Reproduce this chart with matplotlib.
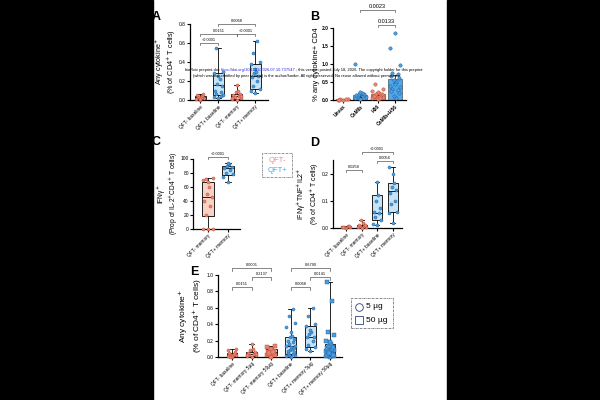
import numpy as np
import matplotlib.pyplot as plt
from matplotlib.patches import Rectangle
from matplotlib.lines import Line2D
from matplotlib.text import Annotation

plt.rcParams['font.family'] = ['Liberation Sans', 'DejaVu Sans']

RED = '#ec8570'; RED_EDGE = '#b04a38'; RED_FILL = '#f9d2c6'
BLUE = '#4a9ee0'; BLUE_EDGE = '#1d5a94'; BLUE_FILL = '#c6e3f7'

# ---- panel A ----
a_labels = ['QFT- baseline', 'QFT+ baseline', 'QFT- memory', 'QFT+ memory']
# lo, q1, med, q3, hi
a_stats = [[0.0, 0.01, 0.03, 0.04, 0.06],
           [0.02, 0.05, 0.16, 0.28, 0.55],
           [0.0, 0.01, 0.04, 0.06, 0.16],
           [0.07, 0.12, 0.25, 0.38, 0.62]]
a_pts = [[0.0, 0.01, 0.02, 0.03, 0.04, 0.05, 0.06, 0.03, 0.02, 0.01],
         [0.02, 0.03, 0.05, 0.06, 0.08, 0.10, 0.15, 0.17, 0.22, 0.25, 0.28, 0.30, 0.55, 0.04],
         [0.0, 0.01, 0.02, 0.03, 0.04, 0.05, 0.06, 0.08, 0.10, 0.16, 0.02, 0.04],
         [0.07, 0.10, 0.12, 0.15, 0.20, 0.24, 0.25, 0.28, 0.30, 0.33, 0.38, 0.40, 0.50, 0.62]]
a_brackets = [(0, 1, 0.60, '<0.0001'), (0, 2, 0.70, '0.0151'),
              (2, 3, 0.70, '<0.0001'), (1, 3, 0.80, '0.0068')]

# ---- panel B ----
b_labels = ['Unvax', 'CoMIb', 'H56', 'CoMIb+H56']
b_means = [0.02, 0.13, 0.17, 0.58]
b_err = [0.005, 0.05, 0.04, 0.12]
b_pts = [[0.0, 0.01, 0.02, 0.03, 0.02, 0.01],
         [0.03, 0.05, 0.08, 0.10, 0.12, 0.14, 0.16, 0.18, 0.20, 0.21, 1.0],
         [0.02, 0.05, 0.08, 0.10, 0.12, 0.14, 0.16, 0.18, 0.20, 0.22, 0.25, 0.30, 0.45, 0.06, 0.11],
         [1.85, 1.45, 0.98, 0.75, 0.72, 0.68, 0.60, 0.55, 0.50, 0.45, 0.40, 0.35,
          0.30, 0.28, 0.25, 0.20, 0.10, 0.05]]
b_brackets = [(2, 3, 2.08, '0.0133'), (1, 3, 2.5, '0.0023')]

# ---- panel C ----
c_labels = ['QFT- memory', 'QFT+ memory']
c_stats = [[0, 18, 46, 67, 72], [67, 76, 86, 90, 94]]
c_pts = [[0, 0, 0, 20, 33, 40, 46, 50, 60, 67, 70, 72, 71],
         [67, 74, 78, 80, 84, 86, 88, 90, 92, 94]]

# ---- panel D ----
d_labels = ['QFT- baseline', 'QFT- memory', 'QFT+ baseline', 'QFT+ memory']
d_stats = [[0.0, 0.002, 0.004, 0.006, 0.008],
           [0.0, 0.002, 0.006, 0.012, 0.03],
           [0.01, 0.03, 0.055, 0.12, 0.17],
           [0.02, 0.06, 0.135, 0.165, 0.225]]
d_pts = [[0.0, 0.002, 0.003, 0.005, 0.006, 0.004, 0.008],
         [0.0, 0.002, 0.004, 0.006, 0.008, 0.01, 0.012, 0.03, 0.02],
         [0.01, 0.015, 0.03, 0.04, 0.055, 0.06, 0.075, 0.10, 0.12, 0.17],
         [0.02, 0.055, 0.06, 0.09, 0.10, 0.13, 0.14, 0.15, 0.165, 0.20, 0.225]]
d_brackets = [(0, 1, 0.215, '0.0258'), (2, 3, 0.248, '0.0056'), (1, 3, 0.28, '<0.0001')]

# ---- panel E ----
e_labels = ['QFT- baseline', 'QFT- memory 5µg', 'QFT- memory 50µg',
            'QFT+ baseline', 'QFT+ memory 5µg', 'QFT+ memory 50µg']
e_stats = [[0.0, 0.01, 0.03, 0.05, 0.10],
           [0.0, 0.01, 0.04, 0.06, 0.16],
           [0.0, 0.03, 0.06, 0.10, 0.13],
           [0.0, 0.04, 0.13, 0.24, 0.58],
           [0.07, 0.12, 0.25, 0.38, 0.60],
           [0.0, 0.02, 0.07, 0.16, 0.92]]
e_pts = [[0.0, 0.01, 0.02, 0.03, 0.04, 0.05, 0.06, 0.03, 0.02, 0.01, 0.08, 0.10, 0.0, 0.04],
         [0.0, 0.01, 0.02, 0.03, 0.04, 0.05, 0.06, 0.08, 0.10, 0.16, 0.02, 0.04],
         [0.0, 0.02, 0.03, 0.04, 0.05, 0.06, 0.07, 0.08, 0.09, 0.10, 0.12, 0.13, 0.05, 0.06],
         [0.0, 0.01, 0.02, 0.03, 0.04, 0.05, 0.06, 0.08, 0.10, 0.12, 0.13, 0.14, 0.16, 0.18,
          0.20, 0.22, 0.24, 0.26, 0.30, 0.36, 0.42, 0.50, 0.58, 0.07, 0.11],
         [0.07, 0.10, 0.12, 0.15, 0.20, 0.24, 0.25, 0.28, 0.30, 0.33, 0.38, 0.40, 0.50, 0.60],
         [0.0, 0.01, 0.01, 0.02, 0.02, 0.03, 0.04, 0.05, 0.06, 0.07, 0.07, 0.08, 0.09, 0.10,
          0.11, 0.12, 0.14, 0.16, 0.18, 0.20, 0.27, 0.30, 0.68, 0.92, 0.03, 0.05]]
e_brackets = [(0, 1, 0.85, '0.0151'), (1, 2, 0.975, '0.2137'), (0, 2, 1.08, '0.0005'),
              (3, 4, 0.85, '0.0068'), (4, 5, 0.975, '0.0141'), (3, 5, 1.08, '0.6790')]

fig = plt.figure(figsize=(6, 4), dpi=100)


def px_axes(x0, x1, ytop, ybot):
    return fig.add_axes([x0 / 600, 1 - ybot / 400, (x1 - x0) / 600, (ybot - ytop) / 400])


def style(ax):
    for s in ['top', 'right']:
        ax.spines[s].set_visible(False)
    for s in ['left', 'bottom']:
        ax.spines[s].set_linewidth(0.9)
    ax.tick_params(length=2, width=0.8, labelsize=3.5, pad=1)


def spread(n, w):
    pat = np.array([0, -1, 1, -0.5, 0.5, -0.75, 0.75, -0.25, 0.25])
    return pat[np.arange(n) % len(pat)] * w


def boxes(ax, stats, pts, fills, pcols, pedges, markers, width):
    pos = np.arange(len(stats))
    st = [dict(whislo=s[0], q1=s[1], med=s[2], q3=s[3], whishi=s[4]) for s in stats]
    bp = ax.bxp(st, positions=pos, widths=width, patch_artist=True, showfliers=False,
                capwidths=width * 0.45,
                boxprops=dict(linewidth=0.6, edgecolor='black'),
                whiskerprops=dict(linewidth=0.6), capprops=dict(linewidth=0.6),
                medianprops=dict(color='black', linewidth=0.6))
    for b, f in zip(bp['boxes'], fills):
        b.set_facecolor(f)
    for i, p in enumerate(pts):
        ax.scatter(i + spread(len(p), width * 0.4), p, s=5, marker=markers[i],
                   color=pcols[i], edgecolors=pedges[i], linewidths=0.3,
                   zorder=3, clip_on=False)


def bracket(ax, x1, x2, y, txt, h, fs=2.8):
    ax.plot([x1, x1, x2, x2], [y - h, y, y, y - h], color='#555555', lw=0.5, clip_on=False)
    ax.text((x1 + x2) / 2, y + h * 0.4, txt, ha='center', va='bottom', fontsize=fs)


def xlabels(ax, labels, bold=False):
    ax.set_xticks(range(len(labels)))
    ax.set_xticklabels(labels, rotation=45, ha='right', rotation_mode='anchor',
                       fontsize=3.5, fontweight='bold' if bold else 'normal')


# A
ax = px_axes(190, 268, 24, 100)
style(ax)
cols = [RED, BLUE, RED, BLUE]
boxes(ax, a_stats, a_pts, [RED_FILL if c == RED else BLUE_FILL for c in cols], cols,
      [RED_EDGE if c == RED else BLUE_EDGE for c in cols], ['o'] * 4, 0.6)
ax.set_xlim(-0.55, 3.7)
ax.set_ylim(0, 0.8)
ax.set_yticks([0, 0.2, 0.4, 0.6, 0.8])
xlabels(ax, a_labels)
ax.set_ylabel('Any cytokine$^{+}$\n(% of CD4$^{+}$ T cells)', fontsize=5.2, labelpad=0.5, linespacing=1.0)
for x1, x2, y, t in a_brackets:
    bracket(ax, x1, x2, y, t, 0.025)

# B
ax = px_axes(333, 406, 28, 100)
style(ax)
b_cols = ['#ee8a74', '#5aaee8', '#ee8a74', '#4fa8ec']
ax.bar(range(4), b_means, width=0.8, color=b_cols, edgecolor='#333333', lw=0.4)
ax.errorbar(range(4), b_means, yerr=b_err, fmt='none', ecolor='black', elinewidth=0.5, capsize=1.5, capthick=0.5)
for i, p in enumerate(b_pts):
    pc = RED if b_cols[i] == '#ee8a74' else BLUE
    pe = RED_EDGE if pc == RED else BLUE_EDGE
    ax.scatter(i + spread(len(p), 0.3), p, s=6, color=pc, edgecolors=pe, linewidths=0.3, zorder=3, clip_on=False)
ax.set_xlim(-0.58, 3.64)
ax.set_ylim(0, 2.0)
ax.set_yticks([0, 0.5, 1.0, 1.5, 2.0])
ax.set_yticklabels(['0.0', '0.5', '1.0', '1.5', '2.0'], fontweight='bold')
xlabels(ax, b_labels, bold=True)
ax.set_ylabel('% any cytokine+ CD4', fontsize=5.5, labelpad=1.5)
for x1, x2, y, t in b_brackets:
    bracket(ax, x1, x2, y, t, 0.06, fs=4)

# C
ax = px_axes(193, 240, 158.5, 229)
style(ax)
boxes(ax, c_stats, c_pts, [RED_FILL, BLUE_FILL], [RED, BLUE], [RED_EDGE, BLUE_EDGE], ['o', 'o'], 0.6)
ax.set_xlim(-0.75, 1.6)
ax.set_ylim(0, 100)
ax.set_yticks([0, 20, 40, 60, 80, 100])
xlabels(ax, c_labels)
ax.set_ylabel('IFNγ$^{+}$\n(Prop of IL-2$^{+}$CD4$^{+}$ T cells)', fontsize=4.8, labelpad=0.5, linespacing=1.0)
bracket(ax, 0, 1, 102, '<0.0001', 3)

# D
ax = px_axes(333, 402, 160, 228)
style(ax)
cols = [RED, RED, BLUE, BLUE]
boxes(ax, d_stats, d_pts, [RED_FILL if c == RED else BLUE_FILL for c in cols], cols,
      [RED_EDGE if c == RED else BLUE_EDGE for c in cols], ['o'] * 4, 0.65)
ax.set_xlim(-0.84, 3.6)
ax.set_ylim(0, 0.25)
ax.set_yticks([0, 0.1, 0.2])
ax.set_yticklabels(['0.0', '0.1', '0.2'])
xlabels(ax, d_labels)
ax.set_ylabel('IFNγ$^{+}$TNF$^{+}$IL2$^{+}$\n(% of CD4$^{+}$ T cells)', fontsize=5, labelpad=1, linespacing=1.0)
for x1, x2, y, t in d_brackets:
    bracket(ax, x1, x2, y, t, 0.008)

# E
ax = px_axes(218, 342, 275, 357)
style(ax)
cols = [RED, RED, RED, BLUE, BLUE, BLUE]
boxes(ax, e_stats, e_pts, [RED_FILL if c == RED else BLUE_FILL for c in cols], cols,
      [RED_EDGE if c == RED else BLUE_EDGE for c in cols], ['o', 'o', 's', 'o', 'o', 's'], 0.55)
ax.set_xlim(-0.71, 5.61)
ax.set_ylim(0, 1.0)
ax.set_yticks([0, 0.2, 0.4, 0.6, 0.8, 1.0])
xlabels(ax, e_labels)
ax.set_ylabel('Any cytokine$^{+}$\n(% of CD4$^{+}$ T cells)', fontsize=6, labelpad=2, linespacing=1.0)
for x1, x2, y, t in e_brackets:
    bracket(ax, x1, x2, y, t, 0.03)

# legends
fig.add_artist(Rectangle((262 / 600, 1 - 177 / 400), 30 / 600, 24 / 400, transform=fig.transFigure,
                         fill=False, ls=(0, (3, 1, 1, 1)), lw=0.5, ec='#666666'))
fig.text(277 / 600, 1 - 160 / 400, 'QFT-', color='#f08a78', fontsize=5.5, ha='center', va='center')
fig.text(277 / 600, 1 - 171 / 400, 'QFT+', color='#4aa8e8', fontsize=5.5, ha='center', va='center')

fig.add_artist(Rectangle((351 / 600, 1 - 328 / 400), 42 / 600, 30 / 400, transform=fig.transFigure,
                         fill=False, ls=(0, (3, 1, 1, 1)), lw=0.5, ec='#555555'))
fig.add_artist(Line2D([359 / 600], [1 - 307 / 400], marker='o', ms=5.5, mfc='white', mec='#2e4270',
                      mew=0.6, transform=fig.transFigure))
fig.add_artist(Line2D([359 / 600], [1 - 320 / 400], marker='s', ms=5.5, mfc='white', mec='#2e4270',
                      mew=0.6, transform=fig.transFigure))
fig.text(366 / 600, 1 - 307 / 400, '5 µg', fontsize=6, va='center')
fig.text(366 / 600, 1 - 320 / 400, '50 µg', fontsize=6, va='center')

# panel letters
for x, y, l in [(152, 17, 'A'), (310, 17, 'B'), (152, 142, 'C'), (310, 143, 'D'), (190, 272, 'E')]:
    fig.text(x / 600, 1 - y / 400, l, fontsize=9, fontweight='bold', va='center')

# preprint header
t1 = fig.text(185 / 600, 1 - 71 / 400, 'bioRxiv preprint doi: ', fontsize=2.9, va='baseline', zorder=50)
t2 = Annotation('https://doi.org/10.1101/2026.07.10.737547', xy=(1, 0), xycoords=t1,
                xytext=(0, 0), textcoords='offset points', fontsize=2.9, color='#2a2ae0', va='bottom', zorder=50)
fig.add_artist(t2)
t3 = Annotation('; this version posted July 18, 2026. The copyright holder for this preprint',
                xy=(1, 0), xycoords=t2, xytext=(0, 0), textcoords='offset points',
                fontsize=2.9, va='bottom', zorder=50)
fig.add_artist(t3)
fig.text(193 / 600, 1 - 77 / 400, '(which was not certified by peer review) is the author/funder. '
         'All rights reserved. No reuse allowed without permission.', fontsize=2.9, va='baseline', zorder=50)

# page borders
fig.add_artist(Rectangle((0, 0), 153 / 600, 1, transform=fig.transFigure, color='black', zorder=100))
fig.add_artist(Rectangle((447 / 600, 0), 153 / 600, 1, transform=fig.transFigure, color='black', zorder=100))

fig.savefig('out.png', dpi=100)
